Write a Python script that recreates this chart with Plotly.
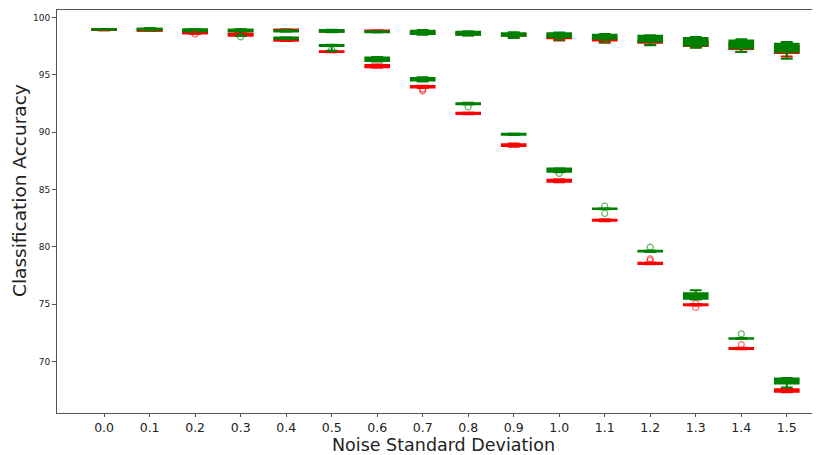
import plotly.graph_objects as go

noise_levels = ["0.0", "0.1", "0.2", "0.3", "0.4", "0.5", "0.6", "0.7",
                "0.8", "0.9", "1.0", "1.1", "1.2", "1.3", "1.4", "1.5"]

# Upper group (both methods stay near the top)
green_top_q1 = [98.93, 98.90, 98.80, 98.80, 98.78, 98.75, 98.70, 98.55, 98.50, 98.40, 98.30, 98.14, 97.88, 97.56, 97.32, 96.98]
green_top_med = [98.96, 98.95, 98.85, 98.85, 98.82, 98.82, 98.74, 98.70, 98.62, 98.52, 98.45, 98.30, 98.10, 97.85, 97.65, 97.35]
green_top_q3 = [98.98, 99.02, 98.95, 98.92, 98.87, 98.90, 98.78, 98.85, 98.75, 98.62, 98.62, 98.50, 98.40, 98.20, 97.99, 97.70]
green_top_lo = [98.92, 98.88, 98.75, 98.40, 98.76, 98.72, 98.68, 98.50, 98.42, 98.20, 98.05, 97.85, 97.58, 97.36, 96.98, 96.40]
green_top_hi = [99.00, 99.05, 98.99, 98.98, 98.90, 98.93, 98.80, 98.90, 98.80, 98.70, 98.68, 98.55, 98.45, 98.30, 98.10, 97.85]

red_top_q1 = [98.90, 98.85, 98.62, 98.42, 98.90, 98.76, 98.80, 98.60, 98.52, 98.42, 98.18, 98.00, 97.80, 97.50, 97.24, 96.90]
red_top_med = [98.91, 98.88, 98.68, 98.50, 98.93, 98.80, 98.83, 98.68, 98.58, 98.48, 98.28, 98.08, 97.88, 97.76, 97.50, 97.18]
red_top_q3 = [98.93, 98.92, 98.74, 98.58, 98.96, 98.85, 98.86, 98.75, 98.64, 98.55, 98.38, 98.15, 97.95, 97.90, 97.75, 97.50]
red_top_lo = [98.89, 98.84, 98.58, 98.40, 98.88, 98.74, 98.78, 98.55, 98.45, 98.30, 98.00, 97.80, 97.60, 97.40, 97.00, 96.60]
red_top_hi = [98.94, 98.94, 98.78, 98.62, 98.97, 98.88, 98.88, 98.80, 98.70, 98.60, 98.45, 98.25, 98.10, 98.05, 97.90, 97.70]

# Lower group (accuracy under noise)
green_low_q1 = [98.93, 98.90, 98.80, 98.80, 98.15, 97.52, 96.20, 94.50, 92.42, 89.78, 86.55, 83.30, 79.58, 75.46, 71.98, 68.07]
green_low_med = [98.96, 98.95, 98.85, 98.85, 98.20, 97.57, 96.35, 94.62, 92.47, 89.82, 86.65, 83.32, 79.62, 75.60, 72.00, 68.30]
green_low_q3 = [98.98, 99.02, 98.95, 98.92, 98.26, 97.60, 96.50, 94.72, 92.52, 89.86, 86.82, 83.34, 79.66, 75.95, 72.03, 68.50]
green_low_lo = [98.92, 98.88, 98.75, 98.40, 98.12, 97.10, 96.15, 94.42, 92.40, 89.75, 86.50, 83.28, 79.55, 75.40, 71.95, 67.72]
green_low_hi = [99.00, 99.05, 98.99, 98.98, 98.28, 97.62, 96.55, 94.78, 92.55, 89.88, 86.85, 83.36, 79.68, 76.20, 72.05, 68.55]

red_low_q1 = [98.90, 98.85, 98.62, 98.42, 97.97, 96.98, 95.66, 93.88, 91.58, 88.78, 85.66, 82.26, 78.50, 74.90, 71.08, 67.35]
red_low_med = [98.91, 98.88, 98.68, 98.50, 98.03, 97.02, 95.75, 93.95, 91.63, 88.85, 85.75, 82.30, 78.55, 74.94, 71.12, 67.45]
red_low_q3 = [98.93, 98.92, 98.74, 98.58, 98.10, 97.06, 95.85, 94.02, 91.68, 88.95, 85.84, 82.36, 78.60, 74.98, 71.16, 67.57]
red_low_lo = [98.89, 98.84, 98.58, 98.40, 97.95, 96.96, 95.62, 93.85, 91.55, 88.72, 85.62, 82.22, 78.48, 74.88, 71.05, 67.30]
red_low_hi = [98.94, 98.94, 98.78, 98.62, 98.12, 97.08, 95.90, 94.05, 91.70, 89.00, 85.88, 82.40, 78.62, 75.00, 71.20, 67.60]

# Outliers
green_out_x = ["0.3", "0.5", "0.8", "1.0", "1.1", "1.1", "1.2", "1.4"]
green_out_y = [98.30, 97.25, 92.20, 86.40, 83.55, 82.90, 79.97, 72.40]
red_out_x = ["0.2", "0.7", "0.7", "1.2", "1.2", "1.3", "1.3", "1.4"]
red_out_y = [98.55, 93.75, 93.60, 78.95, 78.80, 75.05, 74.70, 71.47]

x_title = "Noise Standard Deviation"
y_title = "Classification Accuracy"

GREEN = "#008000"
RED = "#ff0000"

fig = go.Figure()


def add_box(q1, med, q3, lo, hi, color, name):
    fig.add_trace(go.Box(
        x=noise_levels, q1=q1, median=med, q3=q3,
        lowerfence=lo, upperfence=hi,
        name=name, marker_color=color,
        line=dict(color=color, width=2),
        fillcolor=color, width=0.52, whiskerwidth=0.5,
        boxpoints=False, showlegend=False, hoverinfo="skip",
    ))


add_box(red_low_q1, red_low_med, red_low_q3, red_low_lo, red_low_hi, RED, "red_low")
add_box(green_low_q1, green_low_med, green_low_q3, green_low_lo, green_low_hi, GREEN, "green_low")
add_box(red_top_q1, red_top_med, red_top_q3, red_top_lo, red_top_hi, RED, "red_top")
add_box(green_top_q1, green_top_med, green_top_q3, green_top_lo, green_top_hi, GREEN, "green_top")

fig.add_trace(go.Scatter(
    x=red_out_x, y=red_out_y, mode="markers",
    marker=dict(symbol="circle-open", size=6, color="rgba(255,0,0,0.6)", line=dict(width=1.2)),
    showlegend=False, hoverinfo="skip",
))
fig.add_trace(go.Scatter(
    x=green_out_x, y=green_out_y, mode="markers",
    marker=dict(symbol="circle-open", size=6, color="rgba(0,128,0,0.6)", line=dict(width=1.2)),
    showlegend=False, hoverinfo="skip",
))

# page has an 8px body margin, so the figure is sized to fill the rest of the window
fig.update_layout(
    width=812, height=447,
    margin=dict(l=49, r=0, t=2, b=42, autoexpand=False),
    paper_bgcolor="white", plot_bgcolor="white",
    boxmode="overlay",
    font=dict(family="DejaVu Sans", color="#222"),
    annotations=[
        dict(text=x_title, xref="paper", yref="paper", x=0.506, y=0,
             xanchor="center", yanchor="middle", yshift=-32, showarrow=False,
             borderpad=0,
             font=dict(size=17.5, family="DejaVu Sans", color="#222")),
        dict(text=y_title, xref="paper", yref="paper", x=0, y=0.551,
             xanchor="center", yanchor="middle", xshift=-37, textangle=-90,
             showarrow=False, borderpad=0,
             font=dict(size=18.5, family="DejaVu Sans", color="#222")),
    ],
)
fig.update_xaxes(
    type="category", categoryorder="array", categoryarray=noise_levels,
    range=[-1.035, 15.73],
    showline=True, mirror=True, linecolor="#555", linewidth=1,
    ticks="outside", ticklen=3, tickcolor="#555",
    tickfont=dict(size=12.5, family="DejaVu Sans", color="#222"),
    showgrid=False, zeroline=False,
)
fig.update_yaxes(
    range=[65.5, 100.65],
    tickvals=[70, 75, 80, 85, 90, 95, 100],
    showline=True, mirror=False, linecolor="#555", linewidth=1,
    ticks="outside", ticklen=4, tickcolor="#555",
    tickfont=dict(size=9, family="DejaVu Sans", color="#222"),
    showgrid=False, zeroline=False,
)

fig.write_html("out.html")
